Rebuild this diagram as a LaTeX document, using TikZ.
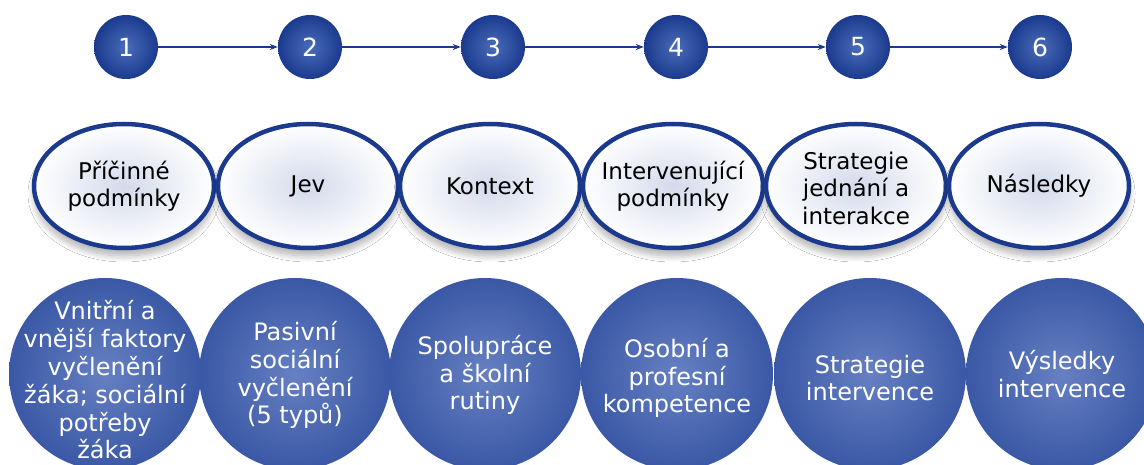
\documentclass[tikz,border=0pt]{standalone}
\usepackage{fontspec}
\setmainfont{DejaVu Sans}
\usetikzlibrary{shapes.geometric,shadows.blur,arrows.meta}
\definecolor{navy}{HTML}{1B3A8E}
\definecolor{navylight}{HTML}{4A6CB8}
\definecolor{bigblue}{HTML}{3A58A5}
\definecolor{bigbluelight}{HTML}{6680C2}
\definecolor{glow}{HTML}{D3DAEB}
\begin{document}
\begin{tikzpicture}[x=1pt,y=-1pt,
  num/.style={circle, minimum size=64pt, inner sep=0pt, shading=radial,
    inner color=navylight, outer color=navy, text=white,
    font=\fontsize{25}{30}\selectfont},
  phase/.style={ellipse, minimum width=180pt, minimum height=124pt, inner sep=0pt,
    draw=navy, line width=4.5pt, shading=radial, inner color=glow, outer color=white,
    blur shadow={shadow xshift=0pt, shadow yshift=-8pt, shadow blur steps=12, shadow blur radius=6pt, shadow opacity=30}},
  phasetext/.style={align=center, text=black, inner sep=0pt, font=\fontsize{23}{27.5}\selectfont},
  big/.style={circle, minimum size=192pt, inner sep=0pt, shading=radial,
    inner color=bigbluelight, outer color=bigblue},
  bigtext/.style={align=center, text=white, inner sep=0pt, font=\fontsize{24}{27.8}\selectfont},
  link/.style={draw=navy, line width=1.3pt, -{Stealth[length=8pt,width=6pt]}}]
\useasboundingbox (0,0) rectangle (1144,465);
\fill[white] (0,0) rectangle (1144,465);
\begin{scope}
\clip (0,0) rectangle (1144,465);
% top numbered circles
\node[num] (n1) at (126,47) {1};
\node[num] (n2) at (310,47) {2};
\node[num] (n3) at (493,47) {3};
\node[num] (n4) at (676,47) {4};
\node[num] (n5) at (858,47) {5};
\node[num] (n6) at (1040,47) {6};
\draw[link] (n1) -- (n2);
\draw[link] (n2) -- (n3);
\draw[link] (n3) -- (n4);
\draw[link] (n4) -- (n5);
\draw[link] (n5) -- (n6);
% ellipses
\node[phase] (e1) at (124,186) {};
\node[phase] (e2) at (308,186) {};
\node[phase] (e3) at (490,186) {};
\node[phase] (e4) at (673,186) {};
\node[phase] (e5) at (856,186) {};
\node[phase] (e6) at (1039,186) {};
\node[phasetext] (p1) at (e1) {Příčinné\\podmínky};
\node[phasetext] (p2) at (e2) {Jev};
\node[phasetext] (p3) at (e3) {Kontext};
\node[phasetext] (p4) at (e4) {Intervenující\\podmínky};
\node[phasetext] (p5) at ([yshift=-2pt]e5.center) {Strategie\\jednání a\\interakce};
\node[phasetext] (p6) at (e6) {Následky};
% big circles
\node[big] (b1) at (105,374) {};
\node[big] (b2) at (295,374) {};
\node[big] (b3) at (485,374) {};
\node[big] (b4) at (677,374) {};
\node[big] (b5) at (870,374) {};
\node[big] (b6) at (1062,374) {};
\node[bigtext] (t1) at ([yshift=-6pt]b1.center) {Vnitřní a\\vnější faktory\\vyčlenění\\žáka; sociální\\potřeby\\žáka};
\node[bigtext] (t2) at ([yshift=-1pt]b2.center) {Pasivní\\sociální\\vyčlenění\\(5 typů)};
\node[bigtext] (t3) at ([yshift=-1pt]b3.center) {Spolupráce\\a školní\\rutiny};
\node[bigtext] (t4) at ([yshift=-4pt]b4.center) {Osobní a\\profesní\\kompetence};
\node[bigtext] (t5) at ([yshift=-4pt]b5.center) {Strategie\\intervence};
\node[bigtext] (t6) at ([yshift=0pt]b6.center) {Výsledky\\intervence};
\end{scope}
\end{tikzpicture}
\end{document}
